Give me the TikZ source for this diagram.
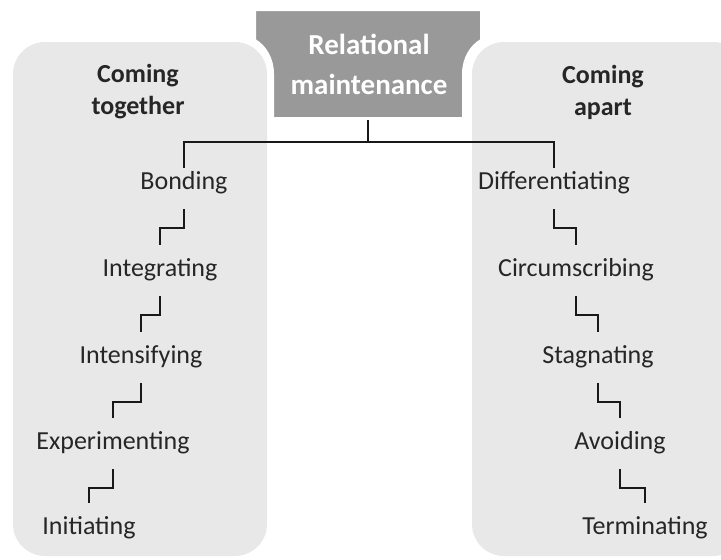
\documentclass[tikz,border=0pt]{standalone}
\usepackage{fontspec}
\setmainfont{Carlito}
\tikzset{
  stage/.style={font=\fontsize{26}{32}\selectfont, text=black!85, inner sep=0pt, text height=19.5pt, text depth=6.5pt},
  side/.style={font=\fontsize{26}{32}\selectfont\bfseries, text=black!85, align=center},
  panel/.style={fill=black!9, rounded corners=32pt},
  stair/.style={line width=2pt, draw=black!90, shorten <=13pt, shorten >=12pt},
  tree/.style={line width=2pt, draw=black!90, shorten >=2pt},
}
\begin{document}
\begin{tikzpicture}[x=1pt,y=-1pt]
  \useasboundingbox (0,0) rectangle (721,560);

  \fill[panel] (13,42) rectangle (267,556);
  \fill[panel] (472,42) rectangle (745,556);

  % top box
  \fill[black!40, draw=white, line width=2pt] (255,10) -- (481,10) -- (481,40)
     .. controls (471,46) and (463,58) .. (463,74) -- (463,118) -- (273,118) -- (273,74)
     .. controls (273,58) and (265,46) .. (255,40) -- cycle;
  \node[font=\fontsize{29}{40}\selectfont\bfseries, text=white, align=center] (rm) at (369,64) {Relational\\maintenance};
  \coordinate (rmbot) at (368,120);

  \node[side] (together) at (138,92) {Coming\\together};
  \node[side] (apart) at (603,92) {Coming\\apart};

  % coming together
  \node[stage] (bonding) at (184,183) {Bonding};
  \node[stage] (integrating) at (160,270) {Integrating};
  \node[stage] (intensifying) at (141,357) {Intensifying};
  \node[stage] (experimenting) at (113,443) {Experimenting};
  \node[stage] (initiating) at (89,528) {Initiating};

  % coming apart
  \node[stage] (differentiating) at (554,183) {Differentiating};
  \node[stage] (circumscribing) at (576,270) {Circumscribing};
  \node[stage] (stagnating) at (598,357) {Stagnating};
  \node[stage] (avoiding) at (620,443) {Avoiding};
  \node[stage] (terminating) at (645,528) {Terminating};

  \draw[tree] (rmbot) -- ++(0,22) -| (bonding.north);
  \draw[tree] (rmbot) -- ++(0,22) -| (differentiating.north);

  \draw[stair] (bonding.south) -- ++(0,32) -| (integrating.north);
  \draw[stair] (integrating.south) -- ++(0,32) -| (intensifying.north);
  \draw[stair] (intensifying.south) -- ++(0,32) -| (experimenting.north);
  \draw[stair] (experimenting.south) -- ++(0,32) -| (initiating.north);

  \draw[stair] (differentiating.south) -- ++(0,32) -| (circumscribing.north);
  \draw[stair] (circumscribing.south) -- ++(0,32) -| (stagnating.north);
  \draw[stair] (stagnating.south) -- ++(0,32) -| (avoiding.north);
  \draw[stair] (avoiding.south) -- ++(0,32) -| (terminating.north);
\end{tikzpicture}
\end{document}
